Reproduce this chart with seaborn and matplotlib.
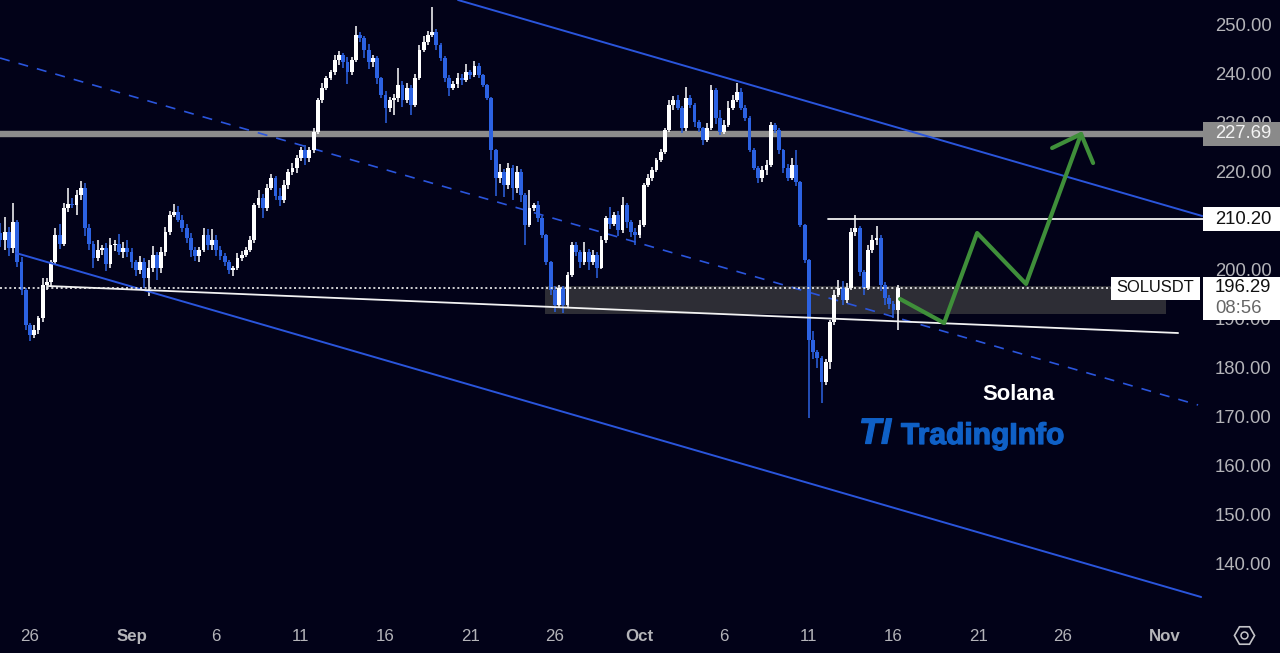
import matplotlib.pyplot as plt
import matplotlib.patheffects as pe
from matplotlib.patches import Rectangle
import numpy as np
import pandas as pd
import seaborn as sns

# 6h candles
first_open = 207.5
closes = [
    206.0, 207.6, 204.3, 209.6, 201.5, 195.8, 188.7, 186.6, 187.7, 190.1,
    196.8, 197.4, 201.5, 207.0, 205.2, 212.5, 213.3, 213.1, 215.2, 216.6,
    208.4, 205.2, 202.3, 204.0, 204.4, 201.1, 205.0, 205.2, 203.6, 204.4,
    203.6, 201.5, 199.9, 201.5, 198.3, 200.3, 203.0, 200.3, 203.6, 207.6,
    211.1, 211.7, 210.1, 208.4, 206.4, 204.0, 202.8, 204.0, 207.0, 205.0,
    206.0, 204.0, 202.8, 201.5, 199.9, 200.3, 202.3, 203.0, 204.0, 206.0,
    213.1, 214.6, 212.5, 216.6, 218.6, 215.0, 214.2, 217.2, 219.9, 220.7,
    222.7, 224.3, 222.7, 224.3, 228.0, 234.5, 237.0, 239.0, 240.2, 242.7,
    243.7, 242.3, 240.2, 242.7, 247.8, 247.1, 244.7, 242.3, 243.1, 239.0,
    235.5, 232.9, 234.5, 234.9, 237.6, 234.5, 237.0, 233.5, 239.0, 244.7,
    246.3, 247.8, 248.4, 245.7, 243.1, 239.0, 237.0, 237.8, 239.0, 238.6,
    240.2, 239.6, 241.5, 239.6, 237.6, 234.9, 224.3, 218.6, 219.9, 217.2,
    220.7, 216.6, 219.9, 215.2, 209.1, 212.5, 213.1, 210.5, 207.0, 201.5,
    195.8, 192.8, 196.2, 192.8, 198.9, 205.0, 203.6, 201.5, 203.6, 201.5,
    203.0, 200.3, 206.0, 210.5, 209.2, 211.1, 208.0, 213.1, 209.7, 207.6,
    207.0, 209.1, 217.2, 218.6, 220.3, 222.3, 223.9, 228.4, 233.5, 234.5,
    232.9, 228.8, 234.9, 233.5, 230.0, 228.8, 226.4, 228.8, 236.6, 230.9,
    228.0, 229.4, 232.9, 234.5, 236.2, 232.9, 230.9, 224.3, 220.7, 218.6,
    220.3, 221.3, 229.4, 228.4, 224.3, 220.7, 218.6, 221.3, 217.8, 209.0,
    201.9, 185.6, 183.2, 182.0, 177.1, 181.2, 189.3, 194.8, 196.2, 193.8,
    196.2, 207.6, 208.4, 199.5, 196.2, 204.0, 206.0, 206.4, 196.9, 194.2,
    193.0, 191.7, 196.2,
]
upper_wick = [
    2.0, 3.0, 1.0, 3.9, 0.5, 1.0, 0.5, 0.3, 1.0, 0.5,
    1.5, 0.8, 0.5, 1.5, 2.2, 1.0, 3.3, 1.2, 1.0, 1.4,
    1.0, 0.8, 0.5, 2.0, 0.6, 1.0, 1.5, 0.8, 2.0, 1.2,
    1.5, 0.8, 0.5, 1.2, 0.8, 1.6, 1.8, 0.5, 1.0, 1.0,
    0.8, 1.6, 1.2, 1.0, 0.8, 1.0, 0.5, 0.6, 1.4, 1.2,
    2.2, 1.0, 0.8, 0.5, 0.4, 0.4, 1.0, 0.8, 0.6, 0.8,
    0.5, 1.5, 0.8, 0.8, 0.8, 0.5, 1.5, 1.0, 0.6, 1.0,
    0.6, 0.6, 1.0, 0.6, 0.8, 0.5, 1.0, 0.5, 0.5, 1.0,
    0.8, 0.4, 1.0, 0.6, 1.8, 0.6, 0.4, 1.2, 0.5, 0.4,
    0.3, 0.8, 0.6, 0.8, 3.5, 0.8, 1.0, 0.6, 0.8, 1.0,
    1.2, 0.8, 5.1, 0.6, 0.4, 0.3, 0.6, 0.5, 1.0, 0.8,
    1.6, 0.4, 1.0, 0.5, 0.3, 0.2, 0.2, 0.3, 1.5, 0.6,
    1.0, 0.5, 1.2, 0.5, 0.3, 3.7, 0.5, 0.8, 0.3, 0.3,
    0.3, 0.8, 0.6, 0.4, 0.5, 0.6, 0.5, 0.4, 2.0, 0.5,
    1.0, 0.5, 0.8, 0.4, 2.2, 0.6, 0.8, 1.6, 0.5, 0.4,
    0.8, 1.0, 0.5, 0.8, 0.6, 0.4, 0.6, 0.4, 1.0, 0.8,
    1.0, 0.4, 2.3, 0.6, 0.5, 0.5, 0.3, 1.0, 1.0, 0.4,
    1.5, 1.0, 1.5, 1.0, 1.8, 0.8, 0.6, 0.4, 0.5, 0.4,
    0.8, 1.0, 0.6, 0.4, 0.5, 0.3, 0.8, 1.5, 3.0, 0.3,
    0.3, 0.3, 1.8, 0.4, 0.3, 0.5, 0.3, 1.0, 1.6, 1.5,
    1.0, 0.8, 2.6, 0.5, 0.4, 1.0, 1.0, 2.5, 0.6, 0.5,
    0.5, 0.5, 0.6,
]
lower_wick = [
    1.5, 2.0, 1.5, 1.0, 1.0, 1.0, 1.0, 1.2, 0.6, 0.8,
    0.8, 1.0, 0.8, 0.5, 1.0, 0.5, 0.8, 0.6, 2.0, 1.0,
    1.5, 1.2, 2.0, 0.6, 1.0, 1.4, 0.8, 1.2, 0.6, 1.2,
    1.0, 1.2, 1.2, 0.8, 2.0, 3.7, 0.8, 2.5, 1.0, 0.8,
    0.5, 0.5, 0.4, 0.8, 1.0, 1.5, 1.0, 1.2, 0.5, 1.0,
    1.0, 1.2, 0.8, 0.8, 0.8, 1.2, 0.5, 0.6, 0.5, 0.5,
    0.6, 0.5, 2.0, 0.5, 0.4, 0.8, 1.2, 0.6, 0.8, 0.6,
    1.0, 0.6, 1.5, 0.8, 0.6, 0.4, 0.5, 0.5, 0.4, 0.6,
    1.0, 1.2, 2.5, 0.6, 0.5, 0.8, 1.6, 1.4, 1.0, 1.2,
    0.6, 3.0, 0.8, 3.1, 0.8, 1.5, 0.6, 2.0, 0.4, 0.5,
    0.4, 0.6, 0.5, 1.0, 0.6, 0.8, 1.6, 0.5, 0.8, 1.0,
    0.5, 0.8, 0.4, 0.6, 0.5, 0.3, 2.0, 3.6, 1.0, 2.4,
    0.8, 2.5, 1.0, 1.5, 4.1, 0.4, 0.6, 0.8, 0.5, 0.6,
    1.0, 1.5, 0.6, 1.7, 0.4, 0.5, 0.8, 1.2, 0.6, 1.6,
    0.5, 2.0, 0.3, 0.6, 1.0, 0.4, 1.2, 0.5, 1.2, 1.0,
    2.0, 0.5, 0.5, 0.4, 0.5, 0.5, 0.4, 0.3, 0.5, 1.0,
    0.5, 1.0, 0.5, 0.6, 1.0, 0.8, 1.0, 0.5, 0.3, 1.2,
    0.6, 0.4, 0.4, 0.4, 0.4, 0.5, 0.6, 0.3, 0.5, 1.0,
    0.8, 1.0, 0.4, 0.6, 0.8, 1.0, 0.6, 0.4, 0.8, 0.4,
    0.5, 15.9, 1.5, 2.0, 4.3, 0.6, 1.5, 0.6, 0.5, 1.0,
    0.6, 0.3, 0.8, 0.8, 1.5, 0.4, 0.6, 1.0, 1.2, 1.5,
    1.0, 1.5, 4.0,
]

# Drawn lines: (days after Aug 26, price)
upper_channel_days = [25.28, 69.23]
upper_channel_price = [254.89, 210.89]
mid_channel_days = [-1.77, 68.99]
mid_channel_price = [243.07, 172.39]
lower_channel_days = [-0.83, 69.17]
lower_channel_price = [203.35, 133.27]
support_days = [1.06, 67.81]
support_price = [196.63, 187.05]
forecast_days = [51.39, 53.99, 55.94, 58.83, 62.08]
forecast_price = [193.98, 189.09, 207.42, 197.04, 227.59]
arrow_days = [60.37, 62.08, 62.79]
arrow_price = [224.74, 227.59, 221.68]

level_high = 227.69
level_mid = 210.20
level_mid_start = 47.13
last_price = 196.29
zone_days = [30.42, 67.1]
zone_price = [191.0, 196.7]

y_ticks = [140, 150, 160, 170, 180, 190, 200, 210, 220, 230, 240, 250]
x_tick_days = [0, 6, 11, 16, 21, 26, 31, 36, 41, 46, 51, 56, 61, 67]
x_tick_labels = ["26", "Sep", "6", "11", "16", "21", "26", "Oct", "6", "11", "16", "21", "26", "Nov"]

BG = "#020218"
BLUE = "#2C62E2"
LINE_BLUE = "#2A55DC"
GRAY = "#B4B4B9"
GREEN = "#3F8F3A"
LOGO = "#0F60C6"

sns.set_theme(style="dark", rc={"axes.facecolor": BG, "figure.facecolor": BG})
plt.rcParams["font.family"] = ["Liberation Sans", "DejaVu Sans"]

origin = pd.Timestamp("2025-08-26")


def to_time(days):
    return [origin + pd.Timedelta(days=d) for d in days]


times = pd.date_range("2025-08-24 06:00", periods=len(closes), freq="6h")
closes = np.array(closes)
opens = np.r_[first_open, closes[:-1]]
highs = np.maximum(opens, closes) + np.array(upper_wick)
lows = np.minimum(opens, closes) - np.array(lower_wick)
candles = pd.DataFrame({"time": times, "open": opens, "close": closes, "high": highs, "low": lows})
candles["up"] = candles["close"] >= candles["open"]

fig = plt.figure(figsize=(12.8, 6.53), dpi=100)
ax = fig.add_axes([0, 31 / 653, 1204 / 1280, 622 / 653])

# zone and key level sit under the candles
ax.axhspan(zone_price[0], zone_price[1],
           xmin=(30 + zone_days[0] * 16.93) / 1204, xmax=(30 + zone_days[1] * 16.93) / 1204,
           color="#2D2D35", lw=0, zorder=1)
ax.axhline(level_high, color="#8C8C8C", lw=4.6, zorder=1.2)

for is_up, color in [(False, BLUE), (True, "#FFFFFF")]:
    part = candles[candles["up"] == is_up]
    ax.vlines(part["time"], part["low"], part["high"], color=color, lw=1.1, zorder=3)
    ax.bar(part["time"], part["close"] - part["open"], bottom=part["open"], width=0.225,
           color=color, lw=0, zorder=3)

# trend lines
for days, price in [(upper_channel_days, upper_channel_price), (lower_channel_days, lower_channel_price)]:
    sns.lineplot(x=to_time(days), y=price, color=LINE_BLUE, lw=1.4, ax=ax, legend=False, zorder=4)
sns.lineplot(x=to_time(mid_channel_days), y=mid_channel_price, color=LINE_BLUE, lw=1.2,
             linestyle=(0, (6, 5.5)), ax=ax, legend=False, zorder=2)
sns.lineplot(x=to_time(support_days), y=support_price, color="#F2F2F2", lw=1.3, ax=ax, legend=False, zorder=4)
sns.lineplot(x=to_time([level_mid_start, 70]), y=[level_mid, level_mid], color="#F2F2F2", lw=1.3,
             ax=ax, legend=False, zorder=4)

sns.lineplot(x=to_time(forecast_days), y=forecast_price, color=GREEN, lw=3, estimator=None, sort=False,
             ax=ax, legend=False, zorder=5)
sns.lineplot(x=to_time(arrow_days), y=arrow_price, color=GREEN, lw=3, estimator=None, sort=False,
             ax=ax, legend=False, zorder=5)

ytrans = ax.get_yaxis_transform()
ax.plot([0, 1111 / 1204], [last_price, last_price], transform=ytrans, color="#F0F0F0", lw=1.2,
        linestyle=(0, (1.2, 1.6)), zorder=4)

ax.set_xlim(origin - pd.Timedelta(days=1.772), origin + pd.Timedelta(days=69.34))
ax.set_ylim(128.18, 254.89)
ax.set_xlabel("")
ax.set_ylabel("")
ax.grid(False)
for side in ax.spines:
    ax.spines[side].set_visible(False)

ax.yaxis.tick_right()
ax.set_yticks(y_ticks, [f"{v:.2f}" for v in y_ticks])
ax.set_xticks(to_time(x_tick_days), x_tick_labels)
ax.tick_params(axis="y", length=0, pad=8, labelsize=13.3, labelcolor=GRAY)
ax.tick_params(axis="x", length=0, pad=5, labelsize=12.2, labelcolor=GRAY)
for lab in ax.get_xticklabels():
    if lab.get_text() in ("Sep", "Oct", "Nov"):
        lab.set_fontweight("bold")

# price boxes on the scale
box_x = 1203 / 1204
box_w = 77 / 1204
label_x = 1215 / 1204
px = 1 / 4.909  # price per pixel
ax.add_patch(Rectangle((box_x, level_high - 12 * px), box_w, 24 * px, transform=ytrans, color="#8A8A8A",
                       lw=0, clip_on=False, zorder=10))
ax.text(label_x, level_high, f"{level_high:.2f}", transform=ytrans, color="#F4F4F4", fontsize=13.3,
        va="center", ha="left", zorder=11)
ax.add_patch(Rectangle((box_x, level_mid - 12 * px), box_w, 24 * px, transform=ytrans, color="white",
                       lw=0, clip_on=False, zorder=10))
ax.text(label_x, level_mid, f"{level_mid:.2f}", transform=ytrans, color="#111111", fontsize=13.3,
        va="center", ha="left", zorder=11)
ax.add_patch(Rectangle((box_x, last_price - 32 * px), box_w, 43 * px, transform=ytrans, color="white",
                       lw=0, clip_on=False, zorder=10))
ax.text(label_x, last_price, f"{last_price:.2f}", transform=ytrans, color="#111111", fontsize=13.3,
        va="center", ha="left", zorder=11)
ax.text(label_x, last_price - 21 * px, "08:56", transform=ytrans, color="#666666", fontsize=13.3,
        va="center", ha="left", zorder=11)
ax.add_patch(Rectangle((1111 / 1204, last_price - 12 * px), 89 / 1204, 23 * px, transform=ytrans,
                       color="white", lw=0, clip_on=False, zorder=10))
ax.text(1155.5 / 1204, last_price, "SOLUSDT", transform=ytrans, color="#111111", fontsize=11.9,
        va="center", ha="center", zorder=11)

# watermark
heavy = [pe.withStroke(linewidth=0.9, foreground=LOGO)]
ax.text(1018 / 1204, 1 - 394 / 622, "Solana", transform=ax.transAxes, color="white", fontsize=15.8,
        fontweight="bold", ha="center", va="center", zorder=6)
ax.text(859 / 1204, 1 - 434 / 622, "TI", transform=ax.transAxes, color=LOGO, fontsize=26,
        fontweight="bold", fontstyle="italic", ha="left", va="center", zorder=6, path_effects=heavy)
ax.text(901 / 1204, 1 - 436 / 622, "TradingInfo", transform=ax.transAxes, color=LOGO, fontsize=21.6,
        fontweight="bold", ha="left", va="center", zorder=6, path_effects=heavy)

# settings icon
ax.plot([1244 / 1204], [-13 / 622], transform=ax.transAxes, marker="H", ms=14.5, mfc="none", mec="#C4C4C8",
        mew=1.2, clip_on=False, zorder=6)
ax.plot([1244 / 1204], [-13 / 622], transform=ax.transAxes, marker="o", ms=5, mfc="none", mec="#C4C4C8",
        mew=1.1, clip_on=False, zorder=6)

fig.savefig("out.png", dpi=100, facecolor=BG)
